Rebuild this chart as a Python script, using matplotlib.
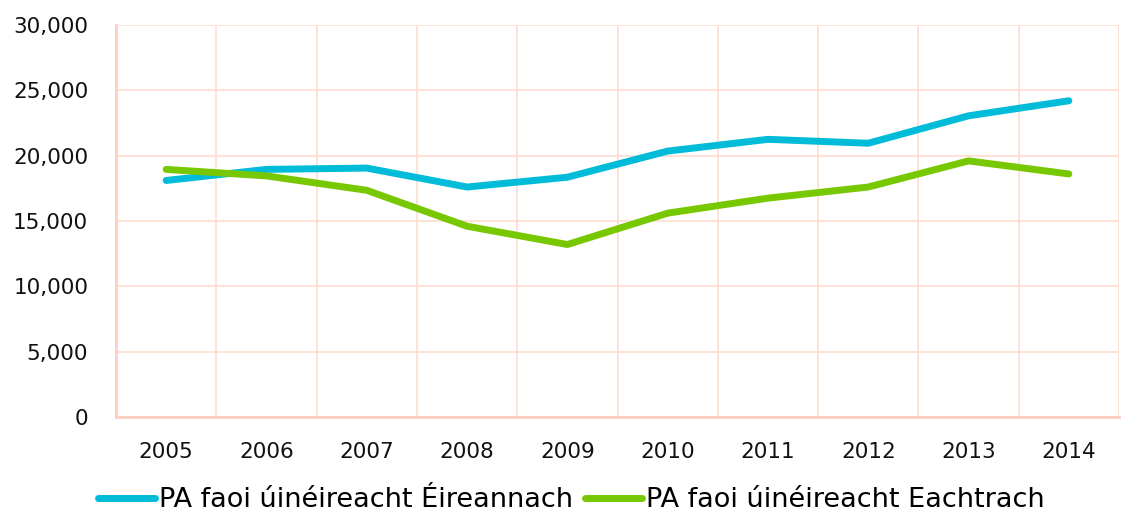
import numpy as np
import matplotlib.pyplot as plt
from matplotlib.ticker import FuncFormatter

years = ['2005', '2006', '2007', '2008', '2009', '2010', '2011', '2012', '2013', '2014']
irish = [18100, 18950, 19050, 17600, 18350, 20350, 21250, 20950, 23050, 24200]
foreign = [18950, 18450, 17350, 14600, 13200, 15600, 16750, 17600, 19600, 18600]
labels = ['PA faoi úinéireacht Éireannach', 'PA faoi úinéireacht Eachtrach']

plt.rcParams['font.family'] = ['DejaVu Sans']
fig = plt.figure(figsize=(11.22, 5.14), dpi=100)
ax = fig.add_axes([116/1122, 1 - 417/514, (1119-116)/1122, (417-25)/514])

x = np.arange(len(years))
ax.plot(x, irish, color='#00BCD8', lw=5, solid_capstyle='round', label=labels[0])
ax.plot(x, foreign, color='#77C800', lw=5, solid_capstyle='round', label=labels[1])

ax.set_xlim(-0.5, 9.372)
ax.set_ylim(0, 30000)
ax.set_yticks(np.arange(0, 30001, 5000))
ax.yaxis.set_major_formatter(FuncFormatter(lambda v, p: f'{int(v):,}'))
ax.set_xticks(x)
ax.set_xticklabels(years)
ax.set_xticks(np.arange(-0.5, len(years)), minor=True)

ax.grid(axis='y', which='major', color='#FDDDD0', lw=1.2)
ax.grid(axis='x', which='minor', color='#FDDDD0', lw=1.2)
ax.set_axisbelow(True)
for s in ['top', 'right']:
    ax.spines[s].set_visible(False)
for s in ['left', 'bottom']:
    ax.spines[s].set_color('#FCCFC0')
    ax.spines[s].set_linewidth(2)
ax.tick_params(which='both', length=0, labelsize=15.5, colors='#111111')
ax.tick_params(axis='y', pad=20)
ax.tick_params(axis='x', pad=18)

ax.legend(loc='center', bbox_to_anchor=(0.454, -0.212), ncol=2, frameon=False,
          fontsize=19.5, handlelength=2.1, handletextpad=0.15, columnspacing=0.45)

fig.savefig('out.png', dpi=100)
